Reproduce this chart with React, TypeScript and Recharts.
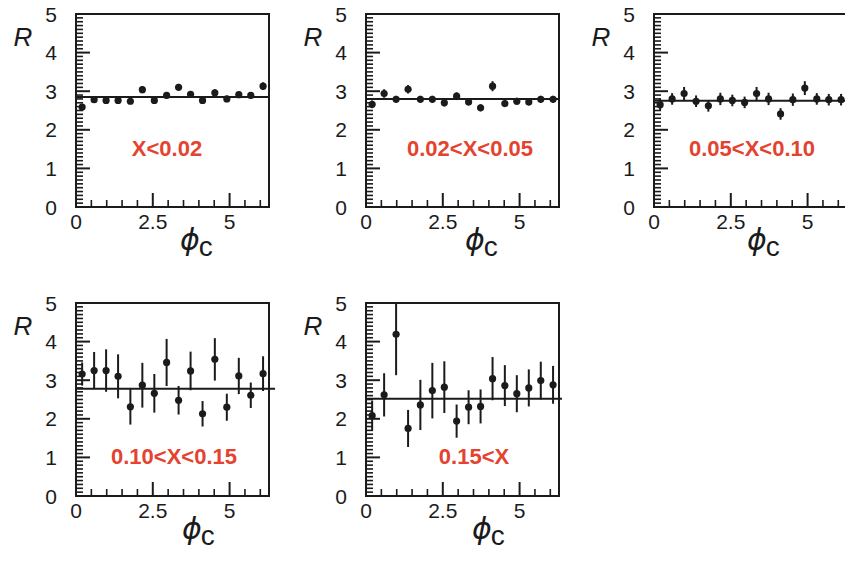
import React from 'react';
import { ScatterChart, Scatter, XAxis, YAxis, ErrorBar, ReferenceLine, ReferenceArea } from 'recharts';

// phi_c bin centres (16 bins over 0..2pi)
const phiBins = [0.2, 0.59, 0.98, 1.37, 1.77, 2.16, 2.55, 2.95, 3.34, 3.73, 4.12, 4.52, 4.91, 5.3, 5.69, 6.09];

// X < 0.02
const rBin1 = [2.59, 2.78, 2.76, 2.76, 2.74, 3.04, 2.76, 2.89, 3.1, 2.92, 2.76, 2.96, 2.8, 2.91, 2.89, 3.13];
const eBin1 = [0.08, 0.07, 0.07, 0.07, 0.07, 0.09, 0.07, 0.08, 0.09, 0.08, 0.08, 0.09, 0.08, 0.08, 0.08, 0.1];
// 0.02 < X < 0.05
const rBin2 = [2.66, 2.94, 2.79, 3.05, 2.79, 2.79, 2.7, 2.87, 2.72, 2.57, 3.13, 2.68, 2.74, 2.72, 2.79, 2.79];
const eBin2 = [0.1, 0.11, 0.09, 0.11, 0.09, 0.09, 0.09, 0.1, 0.09, 0.09, 0.13, 0.09, 0.09, 0.09, 0.09, 0.09];
// 0.05 < X < 0.10
const rBin3 = [2.65, 2.8, 2.94, 2.74, 2.62, 2.8, 2.76, 2.71, 2.94, 2.8, 2.41, 2.78, 3.08, 2.8, 2.78, 2.78];
const eBin3 = [0.15, 0.15, 0.17, 0.15, 0.15, 0.16, 0.15, 0.15, 0.17, 0.16, 0.15, 0.16, 0.18, 0.15, 0.15, 0.15];
// 0.10 < X < 0.15
const rBin4 = [3.16, 3.25, 3.25, 3.1, 2.31, 2.87, 2.66, 3.46, 2.48, 3.24, 2.13, 3.54, 2.3, 3.11, 2.61, 3.17];
const eBin4 = [0.3, 0.48, 0.55, 0.57, 0.46, 0.58, 0.5, 0.61, 0.37, 0.5, 0.33, 0.55, 0.35, 0.47, 0.33, 0.45];
// 0.15 < X  (third point's upper bar runs out of the frame, only the visible part kept)
const rBin5 = [2.08, 2.62, 4.19, 1.75, 2.36, 2.73, 2.82, 1.94, 2.3, 2.32, 3.04, 2.86, 2.65, 2.8, 2.99, 2.88];
const eBin5 = [0.39, 0.56, 1.06, 0.48, 0.65, 0.72, 0.67, 0.43, 0.44, 0.44, 0.56, 0.53, 0.48, 0.48, 0.49, 0.49];
const eBin5Up = [0.39, 0.56, 0.81, 0.48, 0.65, 0.72, 0.67, 0.43, 0.44, 0.44, 0.56, 0.53, 0.48, 0.48, 0.49, 0.49];

const binLabels = ['X<0.02', '0.02<X<0.05', '0.05<X<0.10', '0.10<X<0.15', '0.15<X'];
const fitValues = [2.85, 2.8, 2.75, 2.78, 2.52];

const xTicks = [0, 2.5, 5];
const yTicks = [0, 1, 2, 3, 4, 5];
const PHI_MAX = 2 * Math.PI;
// unlabelled small ticks, every 0.5 on x and 0.1 on y
const xAllTicks = Array.from({ length: 13 }, (_, i) => i * 0.5);
const yAllTicks = Array.from({ length: 51 }, (_, i) => i / 10);

const W = 290;
const H = 270;
const PL = 76;
const PT = 14;
const PW = 193;
const PH = 193;
const INK = '#1b1b1b';
const RED = '#e4432f';
const FONT = '"Liberation Sans", Arial, Helvetica, sans-serif';

const Dot = (p: any) => <circle cx={p.cx} cy={p.cy} r={3.6} fill={INK} />;

const YTick = (p: any) => {
  const v = p.payload.value;
  const major = yTicks.includes(v);
  return (
    <g>
      <line x1={PL} x2={PL + (major ? 14 : 7)} y1={p.y} y2={p.y} stroke={INK} strokeWidth={major ? 2 : 1.6} />
      {major && (
        <text x={p.x} y={p.y} dy="0.36em" textAnchor="end" fontSize={21} fontFamily={FONT} fill={INK}>{v}</text>
      )}
    </g>
  );
};

const XTick = (p: any) => {
  const v = p.payload.value;
  const major = xTicks.includes(v);
  return (
    <g>
      <line x1={p.x} x2={p.x} y1={PT + PH} y2={PT + PH - (major ? 14 : 7)} stroke={INK} strokeWidth={major ? 2 : 1.6} />
      {major && (
        <text x={p.x} y={p.y} dy="0.71em" textAnchor="middle" fontSize={21} fontFamily={FONT} fill={INK}>{v}</text>
      )}
    </g>
  );
};

type PanelProps = {
  left: number;
  top: number;
  values: number[];
  errLow: number[];
  errHigh: number[];
  fit: number;
  fitEnd: number;
  label: string;
  labelX: number;
  labelY: number;
  phiX: number;
};

const Panel = ({ left, top, values, errLow, errHigh, fit, fitEnd, label, labelX, labelY, phiX }: PanelProps) => {
  const data = phiBins.map((x, i) => ({ x, y: values[i], err: [errLow[i], errHigh[i]] }));
  return (
    <div style={{ position: 'absolute', left, top, width: W, height: H }}>
      <ScatterChart width={W} height={H} margin={{ top: PT, right: W - PL - PW, bottom: 0, left: 0 }}>
        <XAxis xAxisId="main" type="number" dataKey="x" domain={[0, PHI_MAX]} ticks={xAllTicks} interval={0}
          height={H - PT - PH} tickLine={false} axisLine={false} tickSize={0} tickMargin={7}
          tick={XTick} allowDataOverflow />
        <YAxis yAxisId="main" type="number" dataKey="y" domain={[0, 5]} ticks={yAllTicks} interval={0} width={PL}
          tickLine={false} axisLine={false} tickSize={0} tickMargin={19} tick={YTick} allowDataOverflow />
        <ReferenceArea xAxisId="main" yAxisId="main" x1={0} x2={PHI_MAX} y1={0} y2={5}
          fill="none" stroke={INK} strokeWidth={2} ifOverflow="visible" />
        <ReferenceLine xAxisId="main" yAxisId="main" segment={[{ x: 0, y: fit }, { x: fitEnd, y: fit }]}
          stroke={INK} strokeWidth={2} ifOverflow="visible" />
        <Scatter xAxisId="main" yAxisId="main" data={data} shape={Dot} isAnimationActive={false}>
          <ErrorBar dataKey="err" direction="y" width={0} stroke={INK} strokeWidth={2} isAnimationActive={false} />
        </Scatter>
      </ScatterChart>
      <svg width={W} height={H} style={{ position: 'absolute', left: 0, top: 0, pointerEvents: 'none' }}>
        <text x={PL - 53} y={PT + 32} textAnchor="middle" fontSize={26} fontStyle="italic" fontFamily={FONT} fill={INK}>R</text>
        <text x={PL + phiX} y={PT + PH + 43} fontSize={30} fontStyle="italic" fontFamily='"DejaVu Sans", sans-serif' fill={INK}>
          ϕ<tspan fontStyle="normal" fontFamily={FONT} fontSize={28} dx={-1} dy={6}>c</tspan>
        </text>
        <text x={PL + labelX} y={PT + labelY} textAnchor="middle" fontSize={22} fontWeight="bold" fontFamily={FONT} fill={RED}>{label}</text>
      </svg>
    </div>
  );
};

export default function App() {
  return (
    <div style={{ position: 'absolute', left: 0, top: 0, width: 845, height: 561, background: '#fff', overflow: 'hidden' }}>
      <Panel left={0} top={0} values={rBin1} errLow={eBin1} errHigh={eBin1} fit={fitValues[0]} fitEnd={PHI_MAX} label={binLabels[0]} labelX={91} labelY={142} phiX={104} />
      <Panel left={290} top={0} values={rBin2} errLow={eBin2} errHigh={eBin2} fit={fitValues[1]} fitEnd={PHI_MAX} label={binLabels[1]} labelX={104} labelY={142} phiX={99} />
      <Panel left={578} top={0} values={rBin3} errLow={eBin3} errHigh={eBin3} fit={fitValues[2]} fitEnd={PHI_MAX} label={binLabels[2]} labelX={98} labelY={142} phiX={93} />
      <Panel left={0} top={289} values={rBin4} errLow={eBin4} errHigh={eBin4} fit={fitValues[3]} fitEnd={6.48} label={binLabels[3]} labelX={98} labelY={161} phiX={106} />
      <Panel left={290} top={289} values={rBin5} errLow={eBin5} errHigh={eBin5Up} fit={fitValues[4]} fitEnd={6.38} label={binLabels[4]} labelX={108} labelY={161} phiX={106} />
    </div>
  );
}
